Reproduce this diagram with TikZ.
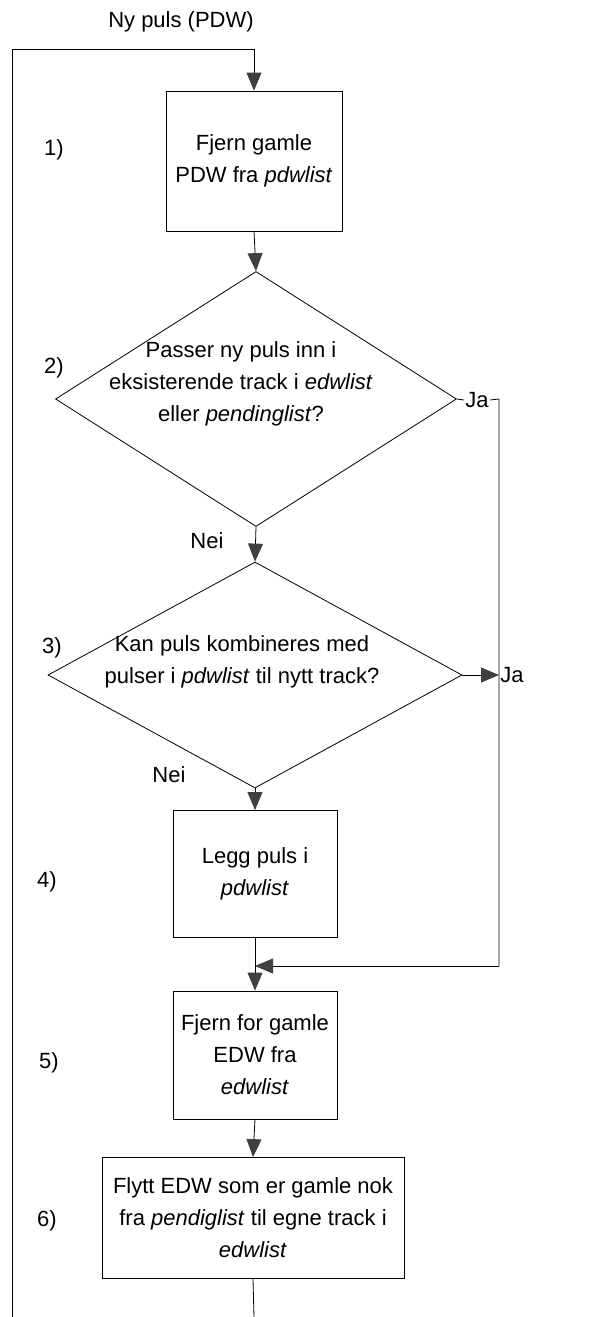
\documentclass[tikz,border=0pt]{standalone}
\usepackage{fontspec}
\setmainfont{Liberation Sans}
\usetikzlibrary{shapes.geometric,arrows.meta}

\tikzset{
  box/.style={draw, rectangle, align=center, inner sep=0pt},
  decision/.style={draw, diamond, inner sep=0pt},
  flow/.style={-{Triangle[length=18pt,width=15pt,color=black!75]}},
}

\begin{document}
\begin{tikzpicture}[x=1pt,y=-1pt,line width=0.8pt,font=\fontsize{22}{32}\selectfont]
  \useasboundingbox (0,0) rectangle (611,1317);

  \node (start) at (181,22) {Ny puls (PDW)};
  \coordinate (S) at (12,49);
  \coordinate (T) at (254,49);
  \coordinate (L) at (12,1317);
  \coordinate (E) at (254,1317);

  \node[box, minimum width=176pt, minimum height=140pt] (B1) at (254,161) {Fjern gamle\\PDW fra \textit{pdwlist}};

  \node[decision, minimum width=401pt, minimum height=255pt] (D2) at (256,399) {};
  \node[align=center] (D2t) at (241,384) {Passer ny puls inn i\\eksisterende track i \textit{edwlist}\\eller \textit{pendinglist}?};

  \node[decision, minimum width=414pt, minimum height=226pt] (D3) at (255,675) {};
  \node[align=center] (D3t) at (242,662) {Kan puls kombineres med\\pulser i \textit{pdwlist} til nytt track?};

  \node[box, minimum width=164pt, minimum height=127pt] (B4) at (255,874) {Legg puls i\\\textit{pdwlist}};
  \node[box, minimum width=164pt, minimum height=128pt] (B5) at (255,1055) {Fjern for gamle\\EDW fra\\\textit{edwlist}};
  \node[box, minimum width=302pt, minimum height=121pt] (B6) at (253,1218) {Flytt EDW som er gamle nok\\fra \textit{pendiglist} til egne track i\\\textit{edwlist}};

  % step numbers
  \foreach \n/\x/\y in {1/54/150, 2/54/368, 3/52/648, 4/47/882, 5/49/1063, 6/47/1221}
    \node (n\n) at (\x,\y) {\n)};

  \node[inner sep=1pt] (ja1) at (477,400) {Ja};
  \coordinate (R1) at (499,399);
  \coordinate (R2) at (499,966);
  \coordinate (M) at (255,966);
  \coordinate (R3) at (499,675);
  \node[anchor=west, inner sep=1pt] (ja2) at (R3) {Ja};
  \node (nei1) at (207,541) {Nei};
  \node (nei2) at (169,775) {Nei};

  \draw (L) -- (S) -- (T);
  \draw[flow] (T) -- (B1.north);
  \draw[flow] (B1.south) -- (D2.north);
  \draw (D2.east) -- (ja1.west);
  \draw (ja1.east) -- (R1) -- (R2);
  \draw[flow] (R2) -- (M);
  \draw[flow] (D2.south) -- (D3.north);
  \draw[flow] (D3.east) -- (R3);
  \draw[flow] (D3.south) -- (B4.north);
  \draw[flow] (B4.south) -- (B5.north);
  \draw[flow] (B5.south) -- (B6.north);
  \draw (B6.south) -- (E);
\end{tikzpicture}
\end{document}
